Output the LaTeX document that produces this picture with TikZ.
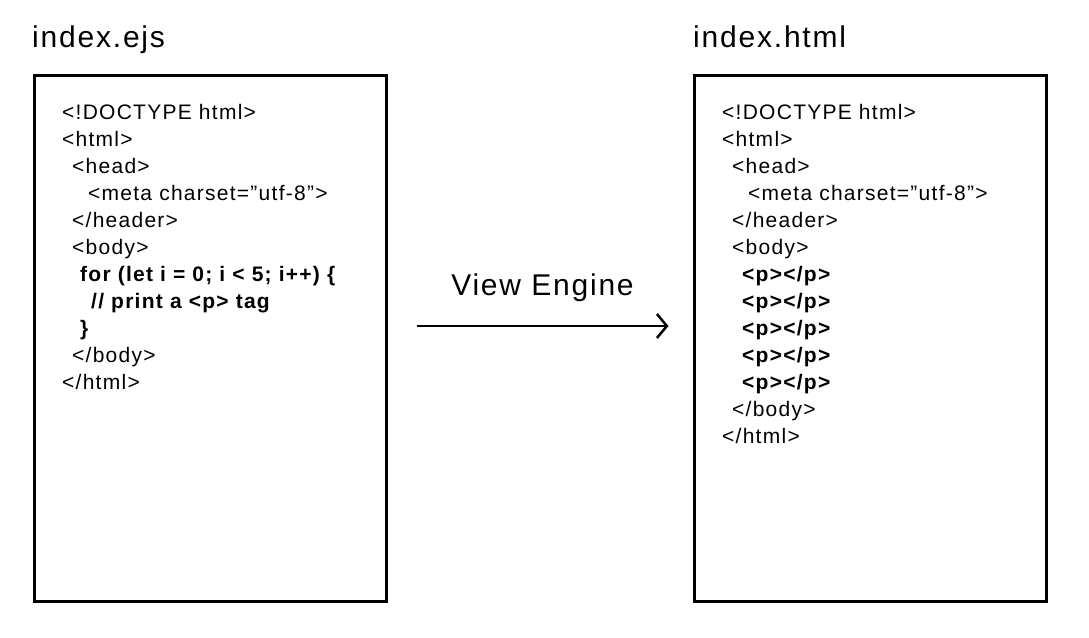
\documentclass[tikz,border=0pt]{standalone}
\usepackage{fontspec}
\setmainfont[LetterSpace=6]{Liberation Sans}
\usetikzlibrary{positioning,arrows.meta}

\begin{document}
\begin{tikzpicture}[
    x=1pt, y=-1pt,
    page/.style={draw, line width=3pt, minimum width=352pt, minimum height=526pt, anchor=north west, inner sep=0pt, outer sep=0pt},
    title/.style={font=\fontsize{30}{36}\selectfont, anchor=base west, inner sep=0pt},
    code/.style={font=\fontsize{21}{27}\selectfont, align=left, anchor=north west, inner sep=0pt},
    arrow/.style={-{Straight Barb[length=10pt,width=24pt]}, line width=2.5pt}
]
\useasboundingbox (0,0) rectangle (1089,637);

% Vorlage
\node[title] (ejstitle) at (32,47) {index.ejs};
\node[page] (ejs) at (34.5,75.5) {};
\node[code] (ejscode) at (62,104) {%
    <!DOCTYPE html>\\
    <html>\\
    \hspace*{10pt}<head>\\
    \hspace*{26pt}<meta charset=”utf-8”>\\
    \hspace*{10pt}</header>\\
    \hspace*{10pt}<body>\\
    \hspace*{18pt}\textbf{for (let i = 0; i < 5; i++) \{}\\
    \hspace*{29pt}\textbf{// print a <p> tag}\\
    \hspace*{18pt}\textbf{\}}\\
    \hspace*{10pt}</body>\\
    </html>};

% Ergebnis
\node[title] (htmltitle) at (693,47) {index.html};
\node[page] (html) at (694.5,75.5) {};
\node[code] (htmlcode) at (722,104) {%
    <!DOCTYPE html>\\
    <html>\\
    \hspace*{10pt}<head>\\
    \hspace*{26pt}<meta charset=”utf-8”>\\
    \hspace*{10pt}</header>\\
    \hspace*{10pt}<body>\\
    \hspace*{20pt}\textbf{<p></p>}\\
    \hspace*{20pt}\textbf{<p></p>}\\
    \hspace*{20pt}\textbf{<p></p>}\\
    \hspace*{20pt}\textbf{<p></p>}\\
    \hspace*{20pt}\textbf{<p></p>}\\
    \hspace*{10pt}</body>\\
    </html>};

% Pfeil
\draw[arrow] ([shift={(30,-12.5)}]ejs.east) -- ([shift={(-26,-12.5)}]html.west)
    node[midway, above=23pt, inner sep=0pt, font=\fontsize{30}{36}\selectfont] (engine) {View Engine};

\end{tikzpicture}
\end{document}
